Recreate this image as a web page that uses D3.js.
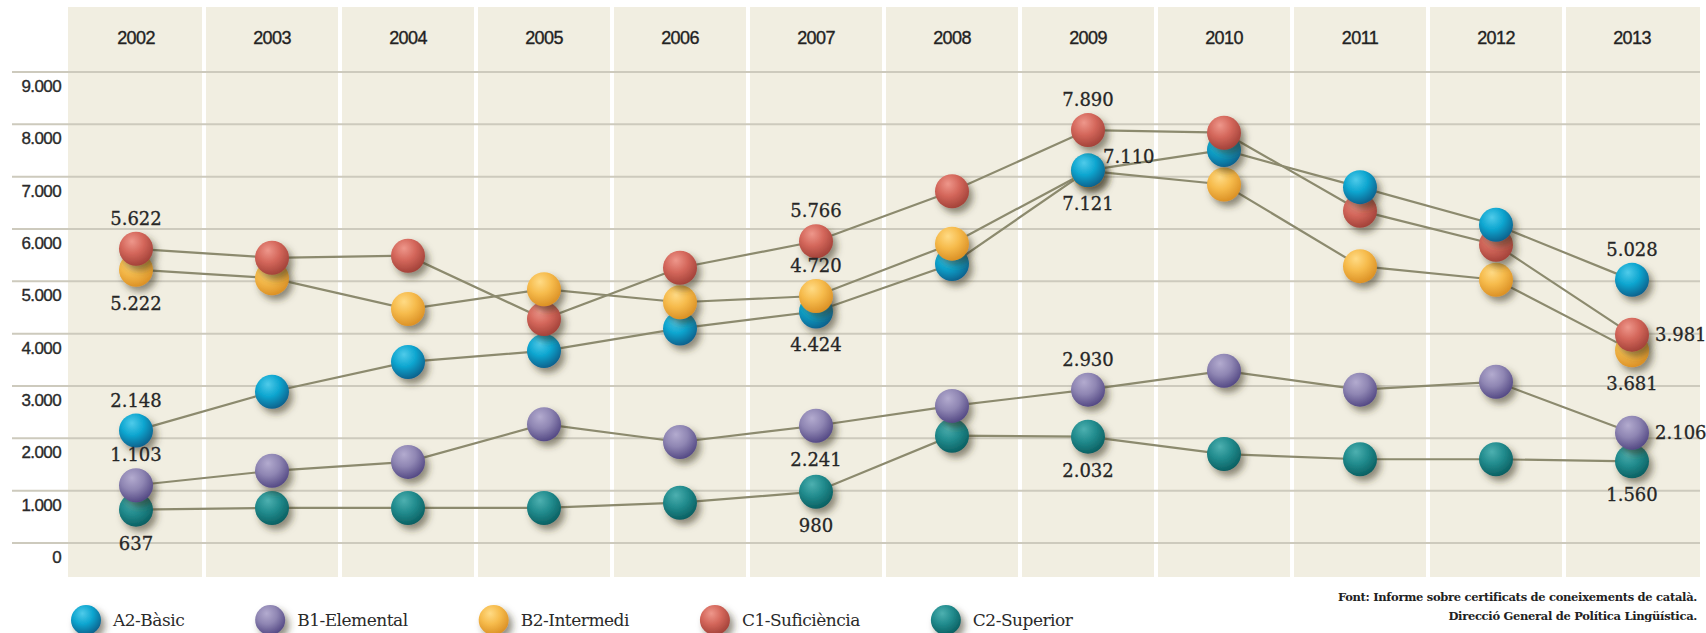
<!DOCTYPE html>
<html>
<head>
<meta charset="utf-8">
<script src="https://cdn.jsdelivr.net/npm/d3@7"></script>
<style>
  body { margin: 0; background: #fff; }
  svg { display: block; }
</style>
</head>
<body>
<div id="chart"></div>
<script>
const years = [2002, 2003, 2004, 2005, 2006, 2007, 2008, 2009, 2010, 2011, 2012, 2013];
const yTicks = [0, 1000, 2000, 3000, 4000, 5000, 6000, 7000, 8000, 9000];

const a2Basic = [2148, 2890, 3460, 3670, 4100, 4424, 5330, 7121, 7510, 6800, 6080, 5028];
const b1Elemental = [1103, 1380, 1550, 2270, 1930, 2241, 2620, 2930, 3290, 2930, 3080, 2106];
const b2Intermedi = [5222, 5060, 4470, 4850, 4600, 4720, 5720, 7110, 6850, 5290, 5030, 3681];
const c1Suficiencia = [5622, 5450, 5490, 4280, 5260, 5766, 6720, 7890, 7840, 6350, 5700, 3981];
const c2Superior = [637, 670, 670, 670, 770, 980, 2050, 2032, 1700, 1600, 1600, 1560];

const seriesNames = ["A2-Bàsic", "B1-Elemental", "B2-Intermedi", "C1-Suficiència", "C2-Superior"];
const seriesValues = [a2Basic, b1Elemental, b2Intermedi, c1Suficiencia, c2Superior];

// which values get a number written next to them, and on which side
const labelled = [
  { s: 3, year: 2002, pos: "above" }, { s: 2, year: 2002, pos: "below" },
  { s: 0, year: 2002, pos: "above" }, { s: 1, year: 2002, pos: "above" },
  { s: 4, year: 2002, pos: "below" },
  { s: 3, year: 2007, pos: "above" }, { s: 2, year: 2007, pos: "above" },
  { s: 0, year: 2007, pos: "below" }, { s: 1, year: 2007, pos: "below" },
  { s: 4, year: 2007, pos: "below" },
  { s: 3, year: 2009, pos: "above" }, { s: 2, year: 2009, pos: "rightUp" },
  { s: 0, year: 2009, pos: "below" }, { s: 1, year: 2009, pos: "above" },
  { s: 4, year: 2009, pos: "below" },
  { s: 0, year: 2013, pos: "above" }, { s: 3, year: 2013, pos: "right" },
  { s: 2, year: 2013, pos: "below" }, { s: 1, year: 2013, pos: "right" },
  { s: 4, year: 2013, pos: "below" }
];

const source = [
  "Font: Informe sobre certificats de coneixements de català.",
  "Direcció General de Política Lingüística."
];

const colors = [
  { light: "#4fcbea", base: "#0ea6d0", dark: "#08648f" },
  { light: "#b3abcf", base: "#8f86b3", dark: "#564b86" },
  { light: "#ffdb85", base: "#f6bb4c", dark: "#dc9226" },
  { light: "#ee978b", base: "#d4675b", dark: "#a4433a" },
  { light: "#4db0b0", base: "#228c8e", dark: "#0b6163" }
];

const width = 1706, height = 633;
const plot = { left: 68, right: 1700, top: 7, bottom: 577 };
const radius = 17;

const fmt = d3.formatLocale({ decimal: ",", thousands: ".", grouping: [3] }).format(",");

const svg = d3.select("#chart")
  .append("svg")
  .attr("width", width)
  .attr("height", height);

const defs = svg.append("defs");
const shadow = defs.append("filter")
  .attr("id", "shadow")
  .attr("x", "-50%").attr("y", "-50%")
  .attr("width", "200%").attr("height", "200%");
shadow.append("feDropShadow")
  .attr("dx", 4).attr("dy", 5)
  .attr("stdDeviation", 3.5)
  .attr("flood-color", "#3a3520")
  .attr("flood-opacity", 0.55);

colors.forEach((c, i) => {
  const g = defs.append("radialGradient")
    .attr("id", `ball${i}`)
    .attr("cx", "40%").attr("cy", "32%").attr("r", "68%")
    .attr("fx", "38%").attr("fy", "28%");
  g.append("stop").attr("offset", "0%").attr("stop-color", c.light);
  g.append("stop").attr("offset", "50%").attr("stop-color", c.base);
  g.append("stop").attr("offset", "100%").attr("stop-color", c.dark);
});

const x = d3.scaleBand()
  .domain(years)
  .range([plot.left, plot.right]);
const y = d3.scaleLinear()
  .domain([0, 9000])
  .range([543, 72]);
const cx = d => x(d) + x.bandwidth() / 2;

// beige year columns separated by white gaps
svg.append("g")
  .selectAll("rect")
  .data(years)
  .join("rect")
    .attr("x", d => x(d) + (d === years[0] ? 0 : 2))
    .attr("y", plot.top)
    .attr("width", d => x.bandwidth() - (d === years[0] ? 2 : 4) + (d === years[years.length - 1] ? 2 : 0))
    .attr("height", plot.bottom - plot.top)
    .attr("fill", "#f1eee1");

svg.append("g")
  .selectAll("line")
  .data(yTicks)
  .join("line")
    .attr("x1", 12)
    .attr("x2", plot.right)
    .attr("y1", d => y(d))
    .attr("y2", d => y(d))
    .attr("stroke", "#cdcabd")
    .attr("stroke-width", 2);

svg.append("g")
  .selectAll("text")
  .data(yTicks)
  .join("text")
    .attr("x", 61)
    .attr("y", d => y(d) + 20)
    .attr("text-anchor", "end")
    .attr("font-family", "Liberation Sans, Arial, sans-serif")
    .attr("font-size", 17)
    .attr("letter-spacing", -0.6)
    .attr("fill", "#2a2a2a")
    .attr("stroke", "#2a2a2a")
    .attr("stroke-width", 0.35)
    .text(d => fmt(d));

svg.append("g")
  .selectAll("text")
  .data(years)
  .join("text")
    .attr("x", d => cx(d))
    .attr("y", 44)
    .attr("text-anchor", "middle")
    .attr("font-family", "Liberation Sans, Arial, sans-serif")
    .attr("font-size", 18)
    .attr("letter-spacing", -0.6)
    .attr("fill", "#222")
    .attr("stroke", "#222")
    .attr("stroke-width", 0.35)
    .text(d => d);

const line = d3.line()
  .x((d, i) => cx(years[i]))
  .y(d => y(d));

svg.append("g")
  .selectAll("path")
  .data(seriesValues)
  .join("path")
    .attr("d", d => line(d))
    .attr("fill", "none")
    .attr("stroke", "#8c8a6e")
    .attr("stroke-width", 2.2);

// balls: the higher ones sit on top of the lower ones
const points = seriesValues.flatMap((vals, s) =>
  vals.map((v, i) => ({ s, year: years[i], value: v })));
points.sort((a, b) => a.value - b.value);

svg.append("g")
  .selectAll("circle")
  .data(points)
  .join("circle")
    .attr("cx", d => cx(d.year))
    .attr("cy", d => y(d.value))
    .attr("r", radius)
    .attr("fill", d => `url(#ball${d.s})`)
    .attr("filter", "url(#shadow)");

const offsets = {
  above: { dx: 0, dy: -24, anchor: "middle" },
  below: { dx: 0, dy: 40, anchor: "middle" },
  right: { dx: 23, dy: 6, anchor: "start" },
  rightUp: { dx: 15, dy: -8, anchor: "start" }
};

svg.append("g")
  .selectAll("text")
  .data(labelled)
  .join("text")
    .attr("x", d => cx(d.year) + offsets[d.pos].dx)
    .attr("y", d => y(seriesValues[d.s][years.indexOf(d.year)]) + offsets[d.pos].dy)
    .attr("text-anchor", d => offsets[d.pos].anchor)
    .attr("font-family", "DejaVu Serif, serif")
    .attr("font-size", 18)
    .attr("fill", "#262626")
    .attr("stroke", "#262626")
    .attr("stroke-width", 0.3)
    .text(d => fmt(seriesValues[d.s][years.indexOf(d.year)]));

// legend
const legend = svg.append("g");
let lx = 86;
seriesNames.forEach((name, i) => {
  legend.append("circle")
    .attr("cx", lx)
    .attr("cy", 620)
    .attr("r", 15)
    .attr("fill", `url(#ball${i})`)
    .attr("filter", "url(#shadow)");
  const t = legend.append("text")
    .attr("x", lx + 27)
    .attr("y", 626)
    .attr("font-family", "DejaVu Serif, serif")
    .attr("font-size", 17)
    .attr("letter-spacing", -0.5)
    .attr("fill", "#2a2a2a")
    .text(name);
  lx += 27 + t.node().getComputedTextLength() + 86;
});

svg.append("g")
  .selectAll("text")
  .data(source)
  .join("text")
    .attr("x", 1697)
    .attr("y", (d, i) => 601 + i * 19)
    .attr("text-anchor", "end")
    .attr("font-family", "DejaVu Serif, serif")
    .attr("font-weight", "bold")
    .attr("font-size", 11.5)
    .attr("letter-spacing", -0.3)
    .attr("fill", "#222")
    .text(d => d);
</script>
</body>
</html>
